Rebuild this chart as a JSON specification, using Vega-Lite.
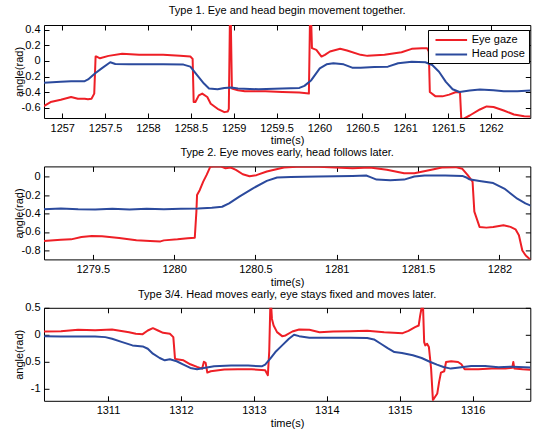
{
  "$schema": "https://vega.github.io/schema/vega-lite/v6.json",
  "padding": {"left": 12, "top": 4, "right": 0, "bottom": 0},
  "bounds": "flush",
  "spacing": 48.4,
  "datasets": {
    "p1": [
      {"s":"Eye gaze","t":1256.785,"v":-0.578},{"s":"Eye gaze","t":1256.864,"v":-0.526},{"s":"Eye gaze","t":1256.983,"v":-0.496},{"s":"Eye gaze","t":1257.103,"v":-0.461},{"s":"Eye gaze","t":1257.182,"v":-0.483},{"s":"Eye gaze","t":1257.262,"v":-0.483},{"s":"Eye gaze","t":1257.30,"v":-0.49},{"s":"Eye gaze","t":1257.341,"v":-0.483},{"s":"Eye gaze","t":1257.373,"v":-0.418},{"s":"Eye gaze","t":1257.389,"v":0.056},{"s":"Eye gaze","t":1257.401,"v":0.056},{"s":"Eye gaze","t":1257.44,"v":0.034},{"s":"Eye gaze","t":1257.54,"v":0.065},{"s":"Eye gaze","t":1257.699,"v":0.091},{"s":"Eye gaze","t":1257.897,"v":0.078},{"s":"Eye gaze","t":1258.176,"v":0.078},{"s":"Eye gaze","t":1258.374,"v":0.065},{"s":"Eye gaze","t":1258.494,"v":0.056},{"s":"Eye gaze","t":1258.521,"v":0.026},{"s":"Eye gaze","t":1258.533,"v":-0.526},{"s":"Eye gaze","t":1258.553,"v":-0.526},{"s":"Eye gaze","t":1258.593,"v":-0.44},{"s":"Eye gaze","t":1258.633,"v":-0.418},{"s":"Eye gaze","t":1258.692,"v":-0.461},{"s":"Eye gaze","t":1258.732,"v":-0.547},{"s":"Eye gaze","t":1258.812,"v":-0.612},{"s":"Eye gaze","t":1258.891,"v":-0.655},{"s":"Eye gaze","t":1258.931,"v":-0.647},{"s":"Eye gaze","t":1258.943,"v":-0.612},{"s":"Eye gaze","t":1258.955,"v":0.46},{"s":"Eye gaze","t":1258.967,"v":0.46},{"s":"Eye gaze","t":1258.979,"v":-0.353},{"s":"Eye gaze","t":1259.05,"v":-0.375},{"s":"Eye gaze","t":1259.13,"v":-0.388},{"s":"Eye gaze","t":1259.368,"v":-0.388},{"s":"Eye gaze","t":1259.567,"v":-0.397},{"s":"Eye gaze","t":1259.766,"v":-0.405},{"s":"Eye gaze","t":1259.877,"v":-0.418},{"s":"Eye gaze","t":1259.889,"v":0.46},{"s":"Eye gaze","t":1259.905,"v":0.46},{"s":"Eye gaze","t":1259.913,"v":0.164},{"s":"Eye gaze","t":1259.964,"v":0.142},{"s":"Eye gaze","t":1260.024,"v":0.056},{"s":"Eye gaze","t":1260.064,"v":0.078},{"s":"Eye gaze","t":1260.123,"v":0.121},{"s":"Eye gaze","t":1260.242,"v":0.155},{"s":"Eye gaze","t":1260.322,"v":0.134},{"s":"Eye gaze","t":1260.481,"v":0.078},{"s":"Eye gaze","t":1260.56,"v":0.065},{"s":"Eye gaze","t":1260.759,"v":0.078},{"s":"Eye gaze","t":1260.958,"v":0.112},{"s":"Eye gaze","t":1261.077,"v":0.155},{"s":"Eye gaze","t":1261.196,"v":0.164},{"s":"Eye gaze","t":1261.256,"v":0.164},{"s":"Eye gaze","t":1261.276,"v":0.121},{"s":"Eye gaze","t":1261.288,"v":-0.397},{"s":"Eye gaze","t":1261.355,"v":-0.453},{"s":"Eye gaze","t":1261.435,"v":-0.453},{"s":"Eye gaze","t":1261.514,"v":-0.431},{"s":"Eye gaze","t":1261.594,"v":-0.397},{"s":"Eye gaze","t":1261.64,"v":-0.405},{"s":"Eye gaze","t":1261.655,"v":-0.741},{"s":"Eye gaze","t":1261.68,"v":-0.741},{"s":"Eye gaze","t":1261.753,"v":-0.698},{"s":"Eye gaze","t":1261.872,"v":-0.621},{"s":"Eye gaze","t":1261.951,"v":-0.582},{"s":"Eye gaze","t":1262.031,"v":-0.59},{"s":"Eye gaze","t":1262.15,"v":-0.634},{"s":"Eye gaze","t":1262.269,"v":-0.685},{"s":"Eye gaze","t":1262.389,"v":-0.707},{"s":"Eye gaze","t":1262.46,"v":-0.71},
      {"s":"Head pose","t":1256.785,"v":-0.28},{"s":"Head pose","t":1256.983,"v":-0.267},{"s":"Head pose","t":1257.103,"v":-0.259},{"s":"Head pose","t":1257.262,"v":-0.259},{"s":"Head pose","t":1257.301,"v":-0.237},{"s":"Head pose","t":1257.381,"v":-0.16},{"s":"Head pose","t":1257.46,"v":-0.095},{"s":"Head pose","t":1257.56,"v":-0.017},{"s":"Head pose","t":1257.619,"v":-0.039},{"s":"Head pose","t":1257.778,"v":-0.043},{"s":"Head pose","t":1258.176,"v":-0.043},{"s":"Head pose","t":1258.414,"v":-0.047},{"s":"Head pose","t":1258.494,"v":-0.073},{"s":"Head pose","t":1258.573,"v":-0.181},{"s":"Head pose","t":1258.653,"v":-0.289},{"s":"Head pose","t":1258.712,"v":-0.353},{"s":"Head pose","t":1258.812,"v":-0.362},{"s":"Head pose","t":1258.891,"v":-0.345},{"s":"Head pose","t":1258.971,"v":-0.34},{"s":"Head pose","t":1259.05,"v":-0.353},{"s":"Head pose","t":1259.289,"v":-0.362},{"s":"Head pose","t":1259.567,"v":-0.353},{"s":"Head pose","t":1259.766,"v":-0.345},{"s":"Head pose","t":1259.825,"v":-0.319},{"s":"Head pose","t":1259.905,"v":-0.246},{"s":"Head pose","t":1260.004,"v":-0.095},{"s":"Head pose","t":1260.083,"v":-0.043},{"s":"Head pose","t":1260.163,"v":-0.03},{"s":"Head pose","t":1260.282,"v":-0.043},{"s":"Head pose","t":1260.382,"v":-0.086},{"s":"Head pose","t":1260.481,"v":-0.086},{"s":"Head pose","t":1260.64,"v":-0.078},{"s":"Head pose","t":1260.799,"v":-0.073},{"s":"Head pose","t":1260.918,"v":-0.03},{"s":"Head pose","t":1261.077,"v":-0.009},{"s":"Head pose","t":1261.236,"v":-0.017},{"s":"Head pose","t":1261.316,"v":-0.052},{"s":"Head pose","t":1261.395,"v":-0.138},{"s":"Head pose","t":1261.475,"v":-0.267},{"s":"Head pose","t":1261.554,"v":-0.362},{"s":"Head pose","t":1261.634,"v":-0.397},{"s":"Head pose","t":1261.753,"v":-0.379},{"s":"Head pose","t":1261.872,"v":-0.366},{"s":"Head pose","t":1262.031,"v":-0.375},{"s":"Head pose","t":1262.15,"v":-0.388},{"s":"Head pose","t":1262.309,"v":-0.388},{"s":"Head pose","t":1262.46,"v":-0.379}
    ],
    "p2": [
      {"s":"Eye gaze","t":1279.198,"v":-0.698},{"s":"Eye gaze","t":1279.304,"v":-0.684},{"s":"Eye gaze","t":1279.367,"v":-0.68},{"s":"Eye gaze","t":1279.43,"v":-0.655},{"s":"Eye gaze","t":1279.494,"v":-0.644},{"s":"Eye gaze","t":1279.557,"v":-0.647},{"s":"Eye gaze","t":1279.662,"v":-0.665},{"s":"Eye gaze","t":1279.768,"v":-0.69},{"s":"Eye gaze","t":1279.852,"v":-0.698},{"s":"Eye gaze","t":1279.916,"v":-0.702},{"s":"Eye gaze","t":1279.937,"v":-0.691},{"s":"Eye gaze","t":1280.021,"v":-0.68},{"s":"Eye gaze","t":1280.084,"v":-0.669},{"s":"Eye gaze","t":1280.127,"v":-0.662},{"s":"Eye gaze","t":1280.137,"v":-0.38},{"s":"Eye gaze","t":1280.141,"v":-0.2},{"s":"Eye gaze","t":1280.158,"v":-0.145},{"s":"Eye gaze","t":1280.179,"v":-0.055},{"s":"Eye gaze","t":1280.2,"v":0.018},{"s":"Eye gaze","t":1280.222,"v":0.105},{"s":"Eye gaze","t":1280.243,"v":0.11},{"s":"Eye gaze","t":1280.285,"v":0.11},{"s":"Eye gaze","t":1280.316,"v":0.09},{"s":"Eye gaze","t":1280.348,"v":0.098},{"s":"Eye gaze","t":1280.38,"v":0.073},{"s":"Eye gaze","t":1280.422,"v":0.025},{"s":"Eye gaze","t":1280.464,"v":0.004},{"s":"Eye gaze","t":1280.506,"v":0.015},{"s":"Eye gaze","t":1280.57,"v":0.055},{"s":"Eye gaze","t":1280.675,"v":0.098},{"s":"Eye gaze","t":1280.781,"v":0.11},{"s":"Eye gaze","t":1280.886,"v":0.105},{"s":"Eye gaze","t":1280.992,"v":0.098},{"s":"Eye gaze","t":1281.097,"v":0.091},{"s":"Eye gaze","t":1281.203,"v":0.098},{"s":"Eye gaze","t":1281.308,"v":0.073},{"s":"Eye gaze","t":1281.414,"v":0.036},{"s":"Eye gaze","t":1281.477,"v":0.036},{"s":"Eye gaze","t":1281.582,"v":0.073},{"s":"Eye gaze","t":1281.646,"v":0.098},{"s":"Eye gaze","t":1281.73,"v":0.102},{"s":"Eye gaze","t":1281.772,"v":0.084},{"s":"Eye gaze","t":1281.804,"v":0.018},{"s":"Eye gaze","t":1281.835,"v":-0.055},{"s":"Eye gaze","t":1281.846,"v":-0.38},{"s":"Eye gaze","t":1281.857,"v":-0.436},{"s":"Eye gaze","t":1281.878,"v":-0.545},{"s":"Eye gaze","t":1281.92,"v":-0.553},{"s":"Eye gaze","t":1281.962,"v":-0.545},{"s":"Eye gaze","t":1282.025,"v":-0.527},{"s":"Eye gaze","t":1282.068,"v":-0.545},{"s":"Eye gaze","t":1282.099,"v":-0.571},{"s":"Eye gaze","t":1282.12,"v":-0.636},{"s":"Eye gaze","t":1282.141,"v":-0.8},{"s":"Eye gaze","t":1282.162,"v":-0.855},{"s":"Eye gaze","t":1282.184,"v":-0.89},{"s":"Eye gaze","t":1282.2,"v":-0.9},
      {"s":"Head pose","t":1279.198,"v":-0.353},{"s":"Head pose","t":1279.304,"v":-0.345},{"s":"Head pose","t":1279.41,"v":-0.353},{"s":"Head pose","t":1279.515,"v":-0.356},{"s":"Head pose","t":1279.62,"v":-0.349},{"s":"Head pose","t":1279.726,"v":-0.356},{"s":"Head pose","t":1279.831,"v":-0.349},{"s":"Head pose","t":1279.937,"v":-0.353},{"s":"Head pose","t":1280.042,"v":-0.349},{"s":"Head pose","t":1280.148,"v":-0.345},{"s":"Head pose","t":1280.232,"v":-0.338},{"s":"Head pose","t":1280.295,"v":-0.327},{"s":"Head pose","t":1280.338,"v":-0.29},{"s":"Head pose","t":1280.401,"v":-0.218},{"s":"Head pose","t":1280.485,"v":-0.127},{"s":"Head pose","t":1280.57,"v":-0.047},{"s":"Head pose","t":1280.633,"v":-0.011},{"s":"Head pose","t":1280.717,"v":-0.004},{"s":"Head pose","t":1280.886,"v":0},{"s":"Head pose","t":1281.097,"v":0.007},{"s":"Head pose","t":1281.181,"v":0.011},{"s":"Head pose","t":1281.203,"v":-0.004},{"s":"Head pose","t":1281.245,"v":-0.033},{"s":"Head pose","t":1281.329,"v":-0.04},{"s":"Head pose","t":1281.414,"v":-0.033},{"s":"Head pose","t":1281.477,"v":0},{"s":"Head pose","t":1281.54,"v":0.011},{"s":"Head pose","t":1281.667,"v":0.011},{"s":"Head pose","t":1281.772,"v":0.007},{"s":"Head pose","t":1281.793,"v":-0.007},{"s":"Head pose","t":1281.814,"v":-0.029},{"s":"Head pose","t":1281.878,"v":-0.047},{"s":"Head pose","t":1281.962,"v":-0.07},{"s":"Head pose","t":1282.03,"v":-0.13},{"s":"Head pose","t":1282.11,"v":-0.24},{"s":"Head pose","t":1282.16,"v":-0.29},{"s":"Head pose","t":1282.2,"v":-0.32}
    ],
    "p3": [
      {"s":"Eye gaze","t":1310.123,"v":0.061},{"s":"Eye gaze","t":1310.356,"v":0.067},{"s":"Eye gaze","t":1310.59,"v":0.092},{"s":"Eye gaze","t":1310.823,"v":0.086},{"s":"Eye gaze","t":1311.056,"v":0.098},{"s":"Eye gaze","t":1311.289,"v":0.049},{"s":"Eye gaze","t":1311.382,"v":0.018},{"s":"Eye gaze","t":1311.476,"v":0.012},{"s":"Eye gaze","t":1311.546,"v":0.08},{"s":"Eye gaze","t":1311.616,"v":0.123},{"s":"Eye gaze","t":1311.686,"v":0.08},{"s":"Eye gaze","t":1311.756,"v":0.037},{"s":"Eye gaze","t":1311.849,"v":0.018},{"s":"Eye gaze","t":1311.896,"v":-0.043},{"s":"Eye gaze","t":1311.919,"v":-0.44},{"s":"Eye gaze","t":1311.942,"v":-0.454},{"s":"Eye gaze","t":1312.035,"v":-0.472},{"s":"Eye gaze","t":1312.129,"v":-0.546},{"s":"Eye gaze","t":1312.222,"v":-0.595},{"s":"Eye gaze","t":1312.292,"v":-0.626},{"s":"Eye gaze","t":1312.315,"v":-0.5},{"s":"Eye gaze","t":1312.339,"v":-0.52},{"s":"Eye gaze","t":1312.362,"v":-0.7},{"s":"Eye gaze","t":1312.409,"v":-0.675},{"s":"Eye gaze","t":1312.595,"v":-0.644},{"s":"Eye gaze","t":1312.782,"v":-0.638},{"s":"Eye gaze","t":1312.968,"v":-0.638},{"s":"Eye gaze","t":1313.155,"v":-0.656},{"s":"Eye gaze","t":1313.192,"v":-0.748},{"s":"Eye gaze","t":1313.211,"v":-0.3},{"s":"Eye gaze","t":1313.225,"v":0.5},{"s":"Eye gaze","t":1313.239,"v":0.5},{"s":"Eye gaze","t":1313.248,"v":0.294},{"s":"Eye gaze","t":1313.271,"v":0.172},{"s":"Eye gaze","t":1313.318,"v":0.049},{"s":"Eye gaze","t":1313.388,"v":-0.025},{"s":"Eye gaze","t":1313.435,"v":-0.012},{"s":"Eye gaze","t":1313.528,"v":0.061},{"s":"Eye gaze","t":1313.621,"v":0.098},{"s":"Eye gaze","t":1313.761,"v":0.092},{"s":"Eye gaze","t":1313.901,"v":0.049},{"s":"Eye gaze","t":1314.088,"v":0.061},{"s":"Eye gaze","t":1314.321,"v":0.067},{"s":"Eye gaze","t":1314.554,"v":0.074},{"s":"Eye gaze","t":1314.787,"v":0.049},{"s":"Eye gaze","t":1315.04,"v":0.031},{"s":"Eye gaze","t":1315.12,"v":0.074},{"s":"Eye gaze","t":1315.21,"v":0.141},{"s":"Eye gaze","t":1315.26,"v":0.172},{"s":"Eye gaze","t":1315.28,"v":0.356},{"s":"Eye gaze","t":1315.3,"v":0.5},{"s":"Eye gaze","t":1315.32,"v":0.5},{"s":"Eye gaze","t":1315.335,"v":-0.135},{"s":"Eye gaze","t":1315.35,"v":-0.196},{"s":"Eye gaze","t":1315.375,"v":-0.166},{"s":"Eye gaze","t":1315.4,"v":-0.227},{"s":"Eye gaze","t":1315.43,"v":-0.626},{"s":"Eye gaze","t":1315.455,"v":-1.21},{"s":"Eye gaze","t":1315.47,"v":-1.18},{"s":"Eye gaze","t":1315.515,"v":-1.086},{"s":"Eye gaze","t":1315.54,"v":-0.871},{"s":"Eye gaze","t":1315.565,"v":-0.7},{"s":"Eye gaze","t":1315.61,"v":-0.675},{"s":"Eye gaze","t":1315.635,"v":-0.503},{"s":"Eye gaze","t":1315.705,"v":-0.49},{"s":"Eye gaze","t":1315.8,"v":-0.503},{"s":"Eye gaze","t":1315.845,"v":-0.546},{"s":"Eye gaze","t":1315.89,"v":-0.638},{"s":"Eye gaze","t":1316.077,"v":-0.638},{"s":"Eye gaze","t":1316.263,"v":-0.626},{"s":"Eye gaze","t":1316.45,"v":-0.626},{"s":"Eye gaze","t":1316.543,"v":-0.61},{"s":"Eye gaze","t":1316.557,"v":-0.503},{"s":"Eye gaze","t":1316.571,"v":-0.626},{"s":"Eye gaze","t":1316.683,"v":-0.638},{"s":"Eye gaze","t":1316.79,"v":-0.645},
      {"s":"Head pose","t":1310.123,"v":-0.025},{"s":"Head pose","t":1310.356,"v":-0.031},{"s":"Head pose","t":1310.59,"v":-0.031},{"s":"Head pose","t":1310.823,"v":-0.031},{"s":"Head pose","t":1310.963,"v":-0.043},{"s":"Head pose","t":1311.056,"v":-0.074},{"s":"Head pose","t":1311.196,"v":-0.135},{"s":"Head pose","t":1311.336,"v":-0.196},{"s":"Head pose","t":1311.476,"v":-0.215},{"s":"Head pose","t":1311.546,"v":-0.258},{"s":"Head pose","t":1311.616,"v":-0.35},{"s":"Head pose","t":1311.709,"v":-0.43},{"s":"Head pose","t":1311.779,"v":-0.472},{"s":"Head pose","t":1311.849,"v":-0.454},{"s":"Head pose","t":1311.942,"v":-0.49},{"s":"Head pose","t":1312.035,"v":-0.552},{"s":"Head pose","t":1312.129,"v":-0.613},{"s":"Head pose","t":1312.222,"v":-0.638},{"s":"Head pose","t":1312.315,"v":-0.613},{"s":"Head pose","t":1312.455,"v":-0.583},{"s":"Head pose","t":1312.688,"v":-0.57},{"s":"Head pose","t":1312.922,"v":-0.57},{"s":"Head pose","t":1313.108,"v":-0.583},{"s":"Head pose","t":1313.155,"v":-0.552},{"s":"Head pose","t":1313.225,"v":-0.442},{"s":"Head pose","t":1313.295,"v":-0.319},{"s":"Head pose","t":1313.388,"v":-0.196},{"s":"Head pose","t":1313.481,"v":-0.074},{"s":"Head pose","t":1313.551,"v":0},{"s":"Head pose","t":1313.621,"v":-0.025},{"s":"Head pose","t":1313.761,"v":-0.055},{"s":"Head pose","t":1314.088,"v":-0.055},{"s":"Head pose","t":1314.321,"v":-0.055},{"s":"Head pose","t":1314.554,"v":-0.061},{"s":"Head pose","t":1314.647,"v":-0.086},{"s":"Head pose","t":1314.741,"v":-0.166},{"s":"Head pose","t":1314.834,"v":-0.245},{"s":"Head pose","t":1314.927,"v":-0.319},{"s":"Head pose","t":1315.03,"v":-0.337},{"s":"Head pose","t":1315.18,"v":-0.38},{"s":"Head pose","t":1315.3,"v":-0.43},{"s":"Head pose","t":1315.42,"v":-0.503},{"s":"Head pose","t":1315.51,"v":-0.552},{"s":"Head pose","t":1315.6,"v":-0.595},{"s":"Head pose","t":1315.7,"v":-0.626},{"s":"Head pose","t":1315.79,"v":-0.61},{"s":"Head pose","t":1315.98,"v":-0.577},{"s":"Head pose","t":1316.17,"v":-0.577},{"s":"Head pose","t":1316.355,"v":-0.6},{"s":"Head pose","t":1316.54,"v":-0.59},{"s":"Head pose","t":1316.63,"v":-0.595},{"s":"Head pose","t":1316.79,"v":-0.607}
    ]
  },
  "vconcat": [
    {
      "width": 486.3, "height": 93,
      "title": {"text": "Type 1. Eye and head begin movement together.", "baseline": "alphabetic", "offset": -1.4},
      "data": {"name": "p1"},
      "layer": [
        {
          "mark": {"type": "line", "clip": true, "strokeWidth": 2, "strokeJoin": "round"},
          "encoding": {
            "x": {"field": "t", "type": "quantitative", "scale": {"domain": [1256.787, 1262.46], "nice": false, "zero": false},
                  "axis": {"values": [1257, 1257.5, 1258, 1258.5, 1259, 1259.5, 1260, 1260.5, 1261, 1261.5, 1262], "title": "time(s)"}},
            "y": {"field": "v", "type": "quantitative", "scale": {"domain": [-0.73, 0.46], "nice": false, "zero": false},
                  "axis": {"values": [-0.6, -0.4, -0.2, 0, 0.2, 0.4], "title": "angle(rad)"}},
            "color": {"field": "s", "type": "nominal", "scale": {"domain": ["Eye gaze", "Head pose"], "range": ["#ee1f26", "#2b4a9d"]},
                      "legend": {"orient": "none", "legendX": 384, "legendY": 5, "title": null, "strokeColor": "black", "fillColor": "white", "padding": 3.5, "symbolType": "M-0.4545,0H5.29", "symbolSize": 121, "symbolStrokeWidth": 2, "labelFontSize": 11, "labelColor": "black", "labelOffset": 27.3, "rowPadding": 2.4}}
          }
        },
        {
          "mark": {"type": "line", "opacity": 0},
          "encoding": {
            "x": {"field": "t", "type": "quantitative", "scale": {"domain": [1256.787, 1262.46], "nice": false, "zero": false},
                  "axis": {"orient": "top", "values": [1257, 1257.5, 1258, 1258.5, 1259, 1259.5, 1260, 1260.5, 1261, 1261.5, 1262], "labels": false, "title": null}},
            "y": {"field": "v", "type": "quantitative", "scale": {"domain": [-0.73, 0.46], "nice": false, "zero": false},
                  "axis": {"orient": "right", "values": [-0.6, -0.4, -0.2, 0, 0.2, 0.4], "labels": false, "title": null}}
          }
        }
      ],
      "resolve": {"axis": {"x": "independent", "y": "independent"}}
    },
    {
      "width": 486.3, "height": 93,
      "title": {"text": "Type 2. Eye moves early, head follows later.", "baseline": "alphabetic", "offset": -1.4},
      "data": {"name": "p2"},
      "layer": [
        {
          "mark": {"type": "line", "clip": true, "strokeWidth": 2, "strokeJoin": "round"},
          "encoding": {
            "x": {"field": "t", "type": "quantitative", "scale": {"domain": [1279.2, 1282.19], "nice": false, "zero": false},
                  "axis": {"values": [1279.5, 1280, 1280.5, 1281, 1281.5, 1282], "title": "time(s)"}},
            "y": {"field": "v", "type": "quantitative", "scale": {"domain": [-0.897, 0.11], "nice": false, "zero": false},
                  "axis": {"values": [-0.8, -0.6, -0.4, -0.2, 0], "title": "angle(rad)"}},
            "color": {"field": "s", "type": "nominal", "scale": {"domain": ["Eye gaze", "Head pose"], "range": ["#ee1f26", "#2b4a9d"]}, "legend": null}
          }
        },
        {
          "mark": {"type": "line", "opacity": 0},
          "encoding": {
            "x": {"field": "t", "type": "quantitative", "scale": {"domain": [1279.2, 1282.19], "nice": false, "zero": false},
                  "axis": {"orient": "top", "values": [1279.5, 1280, 1280.5, 1281, 1281.5, 1282], "labels": false, "title": null}},
            "y": {"field": "v", "type": "quantitative", "scale": {"domain": [-0.897, 0.11], "nice": false, "zero": false},
                  "axis": {"orient": "right", "values": [-0.8, -0.6, -0.4, -0.2, 0], "labels": false, "title": null}}
          }
        }
      ],
      "resolve": {"axis": {"x": "independent", "y": "independent"}}
    },
    {
      "width": 486.3, "height": 93,
      "title": {"text": "Type 3/4. Head moves early, eye stays fixed and moves later.", "baseline": "alphabetic", "offset": -7.2},
      "data": {"name": "p3"},
      "layer": [
        {
          "mark": {"type": "line", "clip": true, "strokeWidth": 2, "strokeJoin": "round"},
          "encoding": {
            "x": {"field": "t", "type": "quantitative", "scale": {"domain": [1310.123, 1316.79], "nice": false, "zero": false},
                  "axis": {"values": [1311, 1312, 1313, 1314, 1315, 1316], "title": "time(s)"}},
            "y": {"field": "v", "type": "quantitative", "scale": {"domain": [-1.222, 0.5], "nice": false, "zero": false},
                  "axis": {"values": [-1, -0.5, 0, 0.5], "title": "angle(rad)"}},
            "color": {"field": "s", "type": "nominal", "scale": {"domain": ["Eye gaze", "Head pose"], "range": ["#ee1f26", "#2b4a9d"]}, "legend": null}
          }
        },
        {
          "mark": {"type": "line", "opacity": 0},
          "encoding": {
            "x": {"field": "t", "type": "quantitative", "scale": {"domain": [1310.123, 1316.79], "nice": false, "zero": false},
                  "axis": {"orient": "top", "values": [1311, 1312, 1313, 1314, 1315, 1316], "labels": false, "title": null}},
            "y": {"field": "v", "type": "quantitative", "scale": {"domain": [-1.222, 0.5], "nice": false, "zero": false},
                  "axis": {"orient": "right", "values": [-1, -0.5, 0, 0.5], "labels": false, "title": null}}
          }
        }
      ],
      "resolve": {"axis": {"x": "independent", "y": "independent"}}
    }
  ],
  "resolve": {"scale": {"color": "independent"}, "legend": {"color": "independent"}},
  "config": {
    "font": "Liberation Sans",
    "view": {"stroke": "black", "strokeWidth": 1},
    "axis": {"grid": false, "domain": false, "ticks": true, "tickColor": "black", "tickSize": -5, "tickWidth": 1,
             "labelColor": "black", "labelFontSize": 11, "labelFont": "Liberation Sans", "labelPadding": 9, "labelFlush": false, "labelOverlap": false,
             "labelExpr": "replace(format(datum.value, '~g'), '\u2212', '-')",
             "titleFont": "Liberation Sans", "titleFontSize": 11, "titleFontWeight": "normal", "titleColor": "black", "titlePadding": 1.7},
    "axisY": {"titlePadding": -3},
    "title": {"fontSize": 11, "fontWeight": "normal", "font": "Liberation Sans", "color": "black", "anchor": "middle"},
    "legend": {"labelFont": "Liberation Sans"}
  }
}
